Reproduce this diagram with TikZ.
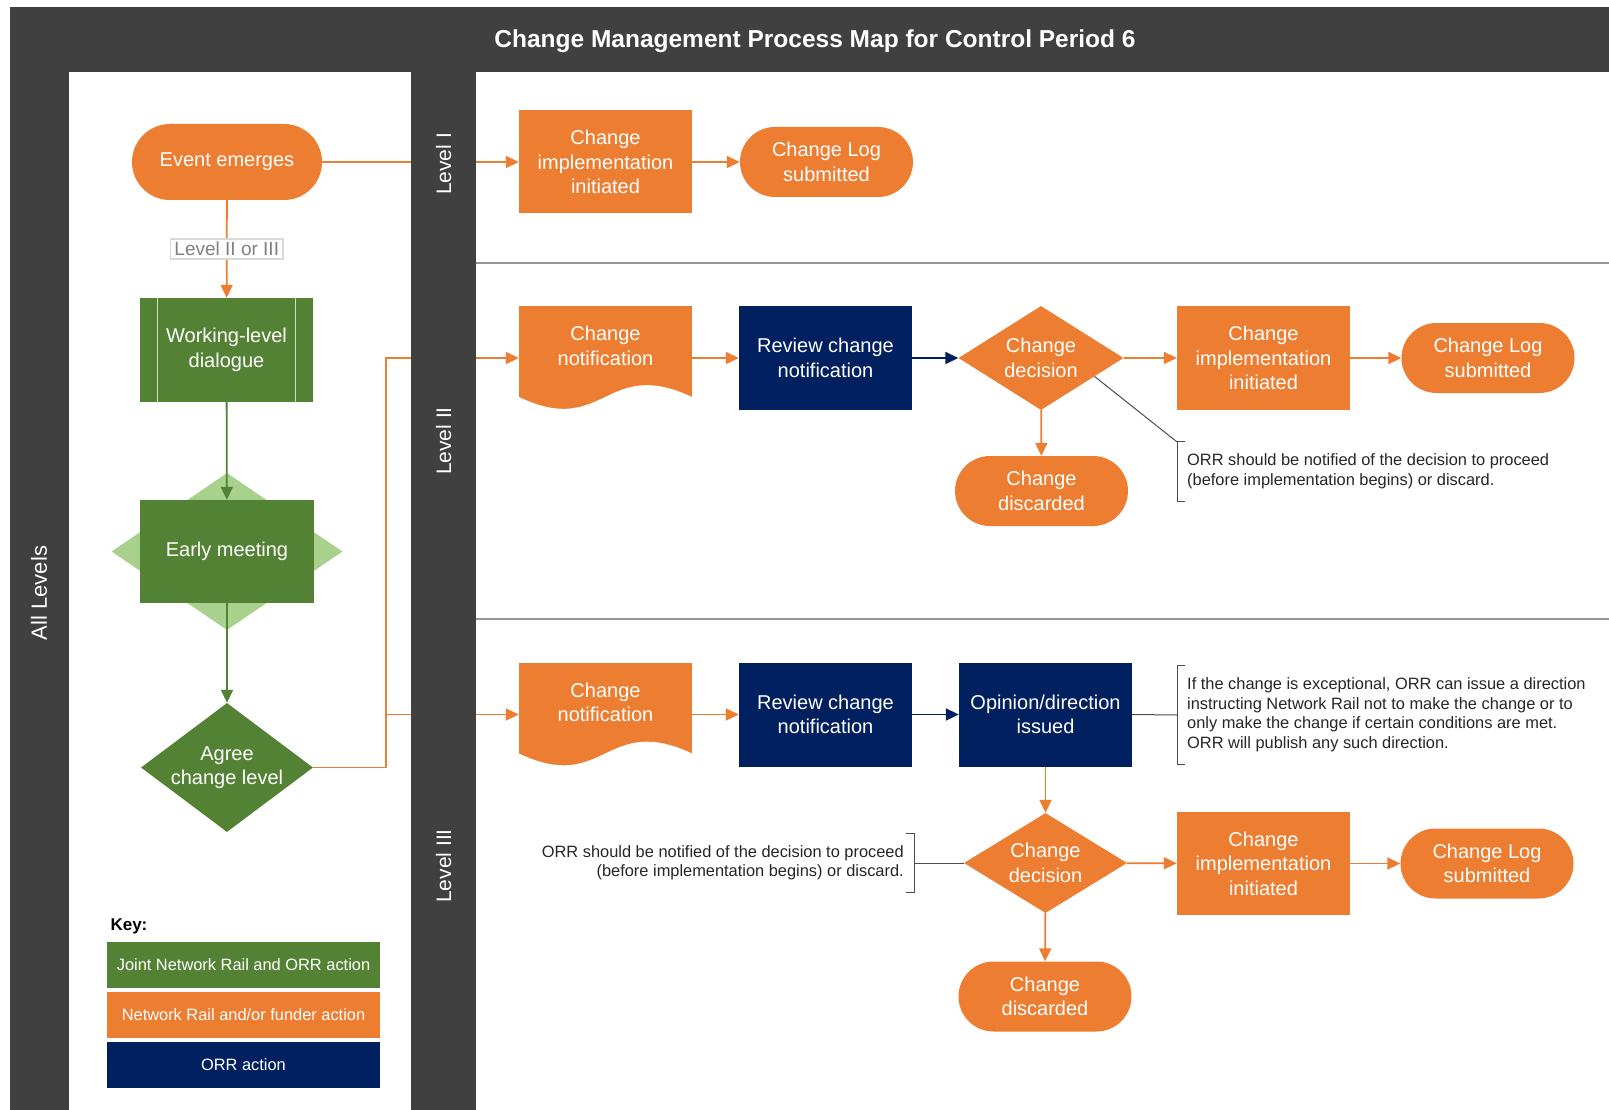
\documentclass[tikz,border=0pt]{standalone}
\usepackage{fontspec}
\setmainfont{Liberation Sans}
\usetikzlibrary{shapes.geometric,arrows.meta}
\definecolor{orng}{RGB}{237,125,49}
\definecolor{grn}{RGB}{84,130,53}
\definecolor{lgrn}{RGB}{169,209,142}
\definecolor{navy}{RGB}{0,32,96}
\definecolor{dgray}{RGB}{64,64,64}
\definecolor{lanegray}{RGB}{150,150,150}
\pgfdeclarelayer{background}
\pgfdeclarelayer{foreground}
\pgfsetlayers{background,main,foreground}

\tikzset{
  box/.style={rectangle, text=white, align=center, inner sep=0pt,
    minimum width=173pt, minimum height=104pt, font=\fontsize{20}{24.5}\selectfont},
  nrbox/.style={box, fill=orng},
  orrbox/.style={box, fill=navy},
  jointbox/.style={box, fill=grn},
  term/.style={box, fill=orng, minimum height=70pt, rounded corners=35pt},
  decide/.style={diamond, aspect=1.6, fill=orng, text=white, align=center, inner sep=0pt,
    minimum width=164pt, minimum height=102pt, font=\fontsize{20}{24.5}\selectfont},
  docbox/.style={nrbox, minimum height=0pt, text height=59pt, text depth=45pt,
    path picture={\fill[white] ([yshift=13pt]path picture bounding box.south west)
      .. controls ([xshift=86pt,yshift=-28pt]path picture bounding box.south west)
      and ([xshift=86pt,yshift=54pt]path picture bounding box.south west)
      .. ([yshift=13pt]path picture bounding box.south east)
      -- ([yshift=-2pt]path picture bounding box.south east)
      -- ([yshift=-2pt]path picture bounding box.south west) -- cycle;}},
  oarrow/.style={draw=orng, line width=1.8pt, -{Triangle[length=13pt,width=12pt]}},
  garrow/.style={draw=grn, line width=1.8pt, -{Triangle[length=13pt,width=12pt]}},
  narrow/.style={draw=navy, line width=1.8pt, -{Triangle[length=13pt,width=12pt]}},
  choice/.style={fill=white, draw=black!15, text=black!50, inner xsep=4pt, inner ysep=3pt,
    font=\fontsize{19}{22}\selectfont},
  note/.style={align=left, text=black!85, inner xsep=2pt, inner ysep=12pt,
    font=\fontsize{16.4}{19.5}\selectfont},
  noteline/.style={draw=black!70, line width=1pt},
  lvl/.style={rotate=90, text=white, font=\fontsize{21}{25}\selectfont},
  keybox/.style={rectangle, text=white, minimum width=273pt, minimum height=46pt,
    font=\fontsize{16.4}{19.5}\selectfont}
}

\begin{document}
\begin{tikzpicture}[x=1pt,y=-1pt]
\useasboundingbox (0,0) rectangle (1609,1110);
% frame and panes
\begin{pgfonlayer}{background}
\fill[dgray] (10,7) rectangle (1609,1110);
\fill[white] (69,72) rectangle (411,1110);
\fill[white] (476,72) rectangle (1609,1110);
\draw[lanegray, line width=2pt] (476,263) -- (1609,263);
\draw[lanegray, line width=2pt] (476,619) -- (1609,619);
\end{pgfonlayer}
\node[text=white, font=\bfseries\fontsize{24.5}{29}\selectfont] (title) at (815,41)
  {Change Management Process Map for Control Period 6};
\node[lvl, font=\fontsize{22}{26}\selectfont] (alllvl) at (39,593) {All Levels};

% all levels
\node[term, minimum width=190pt, minimum height=76pt, rounded corners=38pt] (event) at (227,162) {Event emerges};
\node[jointbox, minimum height=104pt] (wld) at (226.5,350) {Working-level\\dialogue};
\draw[lgrn!60!white, line width=1pt] ([xshift=18pt]wld.north west) -- ([xshift=18pt]wld.south west);
\draw[lgrn!60!white, line width=1pt] ([xshift=-18pt]wld.north east) -- ([xshift=-18pt]wld.south east);
\node[diamond, fill=lgrn, inner sep=0pt, minimum width=231pt, minimum height=157pt] (emdiamond) at (227,551.5) {};
\node[jointbox, minimum width=174pt, minimum height=103pt] (early) at (227,551.5) {Early meeting};
\node[decide, fill=grn, aspect=1.33, minimum width=172pt, minimum height=129pt] (agree) at (227,767.5) {Agree\\change level};

% key
\node[anchor=west, font=\bfseries\fontsize{17}{20}\selectfont] (keyhead) at (107,926) {Key:};
\node[keybox, fill=grn] (keyjoint) at (243.5,965) {Joint Network Rail and ORR action};
\node[keybox, fill=orng] (keynr) at (243.5,1015) {Network Rail and/or funder action};
\node[keybox, fill=navy] (keyorr) at (243.5,1065) {ORR action};

% level I
\node[nrbox, minimum height=103pt] (impl1) at (605.5,162) {Change\\implementation\\initiated};
\node[term] (log1) at (826.5,162) {Change Log\\submitted};

% level II
\node[docbox] (notif2) at (605.5,358) {Change\\notification};
\node[orrbox] (review2) at (825.5,358) {Review change\\notification};
\node[decide, minimum width=165pt, minimum height=104pt] (dec2) at (1041,358) {Change\\decision};
\node[nrbox] (impl2) at (1263.5,358) {Change\\implementation\\initiated};
\node[term] (log2) at (1488,358) {Change Log\\submitted};
\node[term] (disc2) at (1041.5,491) {Change\\discarded};
\node[note, anchor=west] (note2) at (1185,471.5)
  {ORR should be notified of the decision to proceed\\(before implementation begins) or discard.};

% level III
\node[docbox] (notif3) at (605.5,714.5) {Change\\notification};
\node[orrbox] (review3) at (825.5,714.5) {Review change\\notification};
\node[orrbox] (opinion) at (1045.5,714.5) {Opinion/direction\\issued};
\node[decide, minimum width=163pt, minimum height=100pt] (dec3) at (1045.5,863) {Change\\decision};
\node[nrbox, minimum height=103pt] (impl3) at (1263.5,863.5) {Change\\implementation\\initiated};
\node[term] (log3) at (1487,863.5) {Change Log\\submitted};
\node[term] (disc3) at (1045,996.5) {Change\\discarded};
\node[note, anchor=west] (note3) at (1185,715)
  {If the change is exceptional, ORR can issue a direction\\instructing Network Rail not to make the change or to\\only make the change if certain conditions are met.\\ORR will publish any such direction.};
\node[note, align=right, anchor=east] (note4) at (906,863)
  {ORR should be notified of the decision to proceed\\(before implementation begins) or discard.};

% connectors
\draw[oarrow] (event) -- (impl1);
\draw[oarrow] (impl1) -- (log1);
\draw[oarrow] (event) -- node[choice] (lvlchoice) {Level II or III} (wld);
\draw[garrow] (wld) -- (early);
\draw[garrow] (early) -- (agree);
\draw[oarrow] (agree.east) -- ++(73pt,0pt) coordinate (fork) |- (notif2.west);
\draw[oarrow] (fork |- notif3.west) -- (notif3.west);

\draw[oarrow] (notif2) -- (review2);
\draw[narrow] (review2) -- (dec2);
\draw[oarrow] (dec2) -- (impl2);
\draw[oarrow] (impl2) -- (log2);
\draw[oarrow] (dec2) -- (disc2);
\draw[noteline] (note2.north west) -- ++(-8pt,0pt) |- (note2.south west);
\draw[noteline] (dec2.-19) -- ([xshift=-8pt]note2.north west);

\draw[oarrow] (notif3) -- (review3);
\draw[narrow] (review3) -- (opinion);
\draw[oarrow] (opinion) -- (dec3);
\draw[oarrow] (dec3) -- (impl3);
\draw[oarrow] (impl3) -- (log3);
\draw[oarrow] (dec3) -- (disc3);
\draw[noteline] (note3.north west) -- ++(-8pt,0pt) |- (note3.south west);
\draw[noteline] (opinion.east) -- ([xshift=-8pt]note3.west);
\draw[noteline] (note4.north east) -- ++(8pt,0pt) |- (note4.south east);
\draw[noteline] ([xshift=8pt]note4.east) -- (dec3.west);

% level band
\begin{pgfonlayer}{foreground}
\fill[dgray] (411,72) rectangle (476,1110);
\node[lvl] (lvl1) at (443.5,164) {Level I};
\node[lvl] (lvl2) at (443.5,441) {Level II};
\node[lvl] (lvl3) at (443.5,866) {Level III};
\end{pgfonlayer}
\end{tikzpicture}
\end{document}
